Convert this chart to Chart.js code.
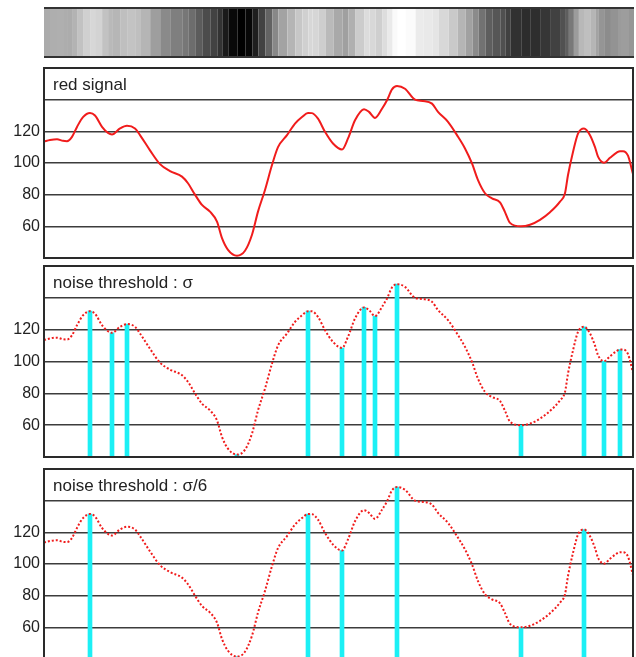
<!DOCTYPE html>
<html><head><meta charset="utf-8">
<script src="https://cdn.jsdelivr.net/npm/chart.js@4.4.1/dist/chart.umd.min.js"></script>
<style>
html,body{margin:0;padding:0;background:#fff;overflow:hidden;width:636px;height:657px;}
canvas{position:absolute;left:0;}
</style></head><body>
<canvas id="strip" width="636" height="65" style="top:0px"></canvas>
<canvas id="p1" width="636" height="202" style="top:62px"></canvas>
<canvas id="p2" width="636" height="203" style="top:260px"></canvas>
<canvas id="p3" width="636" height="202" style="top:463px"></canvas>
<script>
// sample positions along the signal
const samplePos = [0,6,13,19,23,28,33,39,46,51,58,64,68,76,83,91,96,106,116,126,138,144,151,158,166,173,178,184,193,201,208,214,221,228,234,243,251,258,264,268,274,281,289,298,304,311,320,325,331,338,343,348,353,361,371,379,388,394,404,413,421,428,434,441,448,456,461,466,477,486,496,506,516,521,524,529,534,540,546,551,554,560,566,573,576,579,584,589];
// red signal values
const redSignal = [113.5,114.5,115,114,113.8,116.5,122.8,129,131.6,130,122.8,119,118,121.8,123.5,121.8,117.6,108,99.3,94.9,91.4,87.2,80,73.5,69.3,63,52.6,45.2,41.5,44.6,54.7,69.3,83,98.7,110,117.6,124.9,129,131.6,131.5,128,119.7,112.3,108.5,115.5,127,134,132.3,128.5,134.3,139.6,146.5,148.6,146.9,140,139.2,137.5,132.3,126,117.6,109.2,99.7,89.2,80.9,77.7,75.2,69,62.2,60,61,64.1,68.9,75.6,80.9,92.4,107,118.6,121.8,117.6,110,104,100.2,103.3,106.7,107.5,107.5,104.6,93];
// labelled y ticks
const yTickLabels = [60,80,100,120];
// detected extrema (positions) for each noise threshold
const extremaSigma = [46,68,83,193,264,298,320,331,353,477,540,560,576];
const extremaSigma6 = [46,193,264,298,353,477,540];
const panelTitles = ['red signal','noise threshold : σ','noise threshold : σ/6'];
const Y_MIN = 40, Y_MAX = 160, Y_STEP = 20;
const X_MIN = samplePos[0], X_MAX = samplePos[samplePos.length-1];

Chart.defaults.font.family = 'Arial, "Liberation Sans", Helvetica, sans-serif';

const sMin = Math.min(...redSignal), sMax = Math.max(...redSignal);
function grayOf(v){
  const g = Math.round((v - sMin)/(sMax - sMin)*255);
  return 'rgb('+g+','+g+','+g+')';
}

const framePlugin = {
  id:'frame',
  afterDraw(chart){
    const {ctx, chartArea:a} = chart;
    ctx.save();
    ctx.strokeStyle = '#2a2a2a';
    ctx.lineWidth = 2;
    ctx.strokeRect(a.left, a.top, a.right-a.left, a.bottom-a.top);
    ctx.restore();
  }
};
const titlePlugin = {
  id:'panelTitle',
  beforeDatasetsDraw(chart, args, opts){
    if(!opts || !opts.text) return;
    const {ctx, chartArea:a} = chart;
    const y = chart.scales.y.getPixelForValue(Y_MAX - Y_STEP/2);
    ctx.save();
    ctx.fillStyle = '#222';
    ctx.font = '17px Arial, "Liberation Sans", Helvetica, sans-serif';
    ctx.textBaseline = 'middle';
    ctx.textAlign = 'left';
    ctx.fillText(opts.text, a.left + 9, y + 1);
    ctx.restore();
  }
};
const stripBorder = {
  id:'stripBorder',
  afterDraw(chart){
    const {ctx, chartArea:a} = chart;
    ctx.save();
    ctx.strokeStyle = '#333';
    ctx.lineWidth = 2;
    ctx.beginPath();
    ctx.moveTo(a.left, a.top); ctx.lineTo(a.right, a.top);
    ctx.moveTo(a.left, a.bottom); ctx.lineTo(a.right, a.bottom);
    ctx.stroke();
    ctx.restore();
  }
};

// grey strip
new Chart(document.getElementById('strip'), {
  type:'line',
  data:{datasets:[{
    data: samplePos.map(x=>({x, y:0})),
    borderWidth:49, borderCapStyle:'butt', pointRadius:0, tension:0,
    borderColor:'#888',
    segment:{borderColor: c => grayOf(redSignal[c.p0DataIndex])}
  }]},
  options:{
    responsive:false, animation:false, events:[],
    layout:{padding:{left:44, right:2, top:8, bottom:8}},
    plugins:{legend:{display:false}, tooltip:{enabled:false}},
    scales:{
      x:{type:'linear', min:X_MIN, max:X_MAX, display:false},
      y:{min:-1, max:1, display:false}
    }
  },
  plugins:[stripBorder]
});

function makePanel(id, title, dashed, extrema){
  const datasets = [{
    type:'line',
    data: samplePos.map((x,i)=>({x, y:redSignal[i]})),
    borderColor:'#f01c1c', borderWidth:2,
    borderDash: dashed ? [2,2] : [],
    pointRadius:0, cubicInterpolationMode:'monotone', order:0
  }];
  if(extrema){
    datasets.push({
      type:'bar',
      data: extrema.map(p => ({x:p, y:[Y_MIN, redSignal[samplePos.indexOf(p)]]})),
      backgroundColor:'#1cf0f5', barThickness:4, order:1
    });
  }
  new Chart(document.getElementById(id), {
    type:'line',
    data:{datasets},
    options:{
      responsive:false, animation:false, events:[],
      layout:{padding:{left:0, right:3, top:6, bottom:6}},
      plugins:{legend:{display:false}, tooltip:{enabled:false}, panelTitle:{text:title}},
      scales:{
        x:{type:'linear', min:X_MIN, max:X_MAX, display:false, offset:false},
        y:{
          min:Y_MIN, max:Y_MAX,
          afterFit(s){ s.width = 44; s.paddingTop = 0; s.paddingBottom = 0; },
          border:{display:false},
          grid:{color:'#3c3c3c', lineWidth:1.6, drawTicks:false},
          ticks:{stepSize:Y_STEP, padding:4, color:'#222', font:{size:16},
            callback: v => yTickLabels.includes(v) ? String(v) : ''}
        }
      }
    },
    plugins:[framePlugin, titlePlugin]
  });
}
makePanel('p1', panelTitles[0], false, null);
makePanel('p2', panelTitles[1], true, extremaSigma);
makePanel('p3', panelTitles[2], true, extremaSigma6);
</script>
</body></html>
